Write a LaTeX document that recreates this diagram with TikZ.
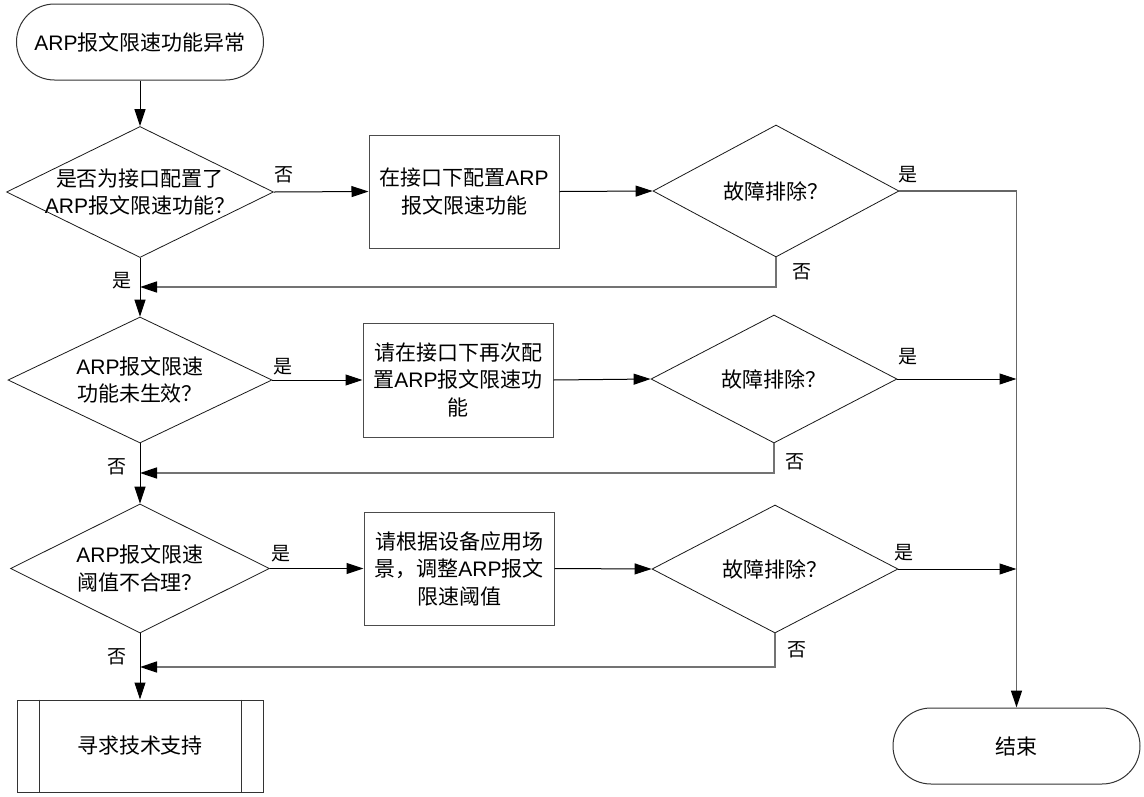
\documentclass[tikz,border=0pt]{standalone}
\usepackage{fontspec}
\setmainfont{Noto Sans CJK SC}
\newfontfamily\latf{Liberation Sans}
\newcommand\ARP{{\latf ARP}}
\usetikzlibrary{shapes.geometric,shapes.misc,arrows.meta}
\begin{document}
\begin{tikzpicture}[x=1pt,y=-1pt,
  font=\fontsize{21}{27.5}\selectfont,
  tip/.style={-{Triangle[length=17pt,width=11pt,color=black]}},
  term/.style={rounded rectangle, draw=black!80, line width=1pt, minimum width=247pt, minimum height=76pt, inner sep=0pt},
  proc/.style={rectangle, draw=black!70, line width=1pt, minimum width=190pt, minimum height=113pt, align=center, inner sep=0pt},
  dec/.style={diamond, draw=black!90, line width=0.8pt, inner sep=0pt},
  flow/.style={draw=black, line width=1pt, tip},
  ret/.style={draw=black!55, line width=1.6pt, tip},
  plain/.style={draw=black!60, line width=1.4pt},
  lab/.style={font=\fontsize{19}{19}\selectfont, inner sep=0pt}]
\useasboundingbox (0,0) rectangle (1144,796);

% nodes
\node[term] (start) at (140,42) {\ARP 报文限速功能异常};
\node[dec, minimum width=267pt, minimum height=131pt,
  label={[align=center]center:是否为接口配置了\\\ARP 报文限速功能？}] (d1) at (140,192) {};
\node[proc] (b1) at (464,191.5) {在接口下配置\ARP\\报文限速功能};
\node[dec, minimum width=246pt, minimum height=132pt,
  label={center:故障排除？}] (f1) at (776,191) {};

\node[dec, minimum width=264pt, minimum height=126pt,
  label={[align=center]center:\ARP 报文限速\\功能未生效？}] (d2) at (140,380) {};
\node[proc, minimum height=114pt] (b2) at (458,380) {请在接口下再次配\\置\ARP 报文限速功\\能};
\node[dec, minimum width=246pt, minimum height=128pt,
  label={center:故障排除？}] (f2) at (774,379) {};

\node[dec, minimum width=259pt, minimum height=129pt,
  label={[align=center]center:\ARP 报文限速\\阈值不合理？}] (d3) at (140,568.5) {};
\node[proc] (b3) at (459,568.5) {请根据设备应用场\\景，调整\ARP 报文\\限速阈值};
\node[dec, minimum width=246pt, minimum height=128pt,
  label={center:故障排除？}] (f3) at (775,569) {};

\node[rectangle, draw=black!80, line width=1pt, minimum width=246pt, minimum height=92pt] (sub) at (140,746) {寻求技术支持};
\draw[black!80, line width=1pt] ([xshift=23pt]sub.north west) -- ([xshift=23pt]sub.south west)
  ([xshift=-22pt]sub.north east) -- ([xshift=-22pt]sub.south east);
\node[term] (end) at (1016.5,746) {结束};

% junction coordinates
\coordinate (j1) at (140,287);
\coordinate (j2) at (140,473);
\coordinate (j3) at (140,667);
\coordinate (r2) at (1016.5,379);
\coordinate (r3) at (1016.5,569);

% main flow
\draw[flow] (start.south) -- (d1.north);
\draw[flow] (d1.south) -- (d2.north);
\draw[flow] (d2.south) -- (d3.north);
\draw[flow] (d3.south) -- (sub.north);

\draw[flow] (d1.east) -- (b1.west);
\draw[flow] (b1.east) -- (f1.west);
\draw[flow] (d2.east) -- (b2.west);
\draw[flow] (b2.east) -- (f2.west);
\draw[flow] (d3.east) -- (b3.west);
\draw[flow] (b3.east) -- (f3.west);

% yes to end
\draw[plain, tip] (f1.east) -| (end.north);
\draw[flow] (f2.east) -- (r2);
\draw[flow] (f3.east) -- (r3);

% returns
\draw[ret] (f1.south) |- (j1);
\draw[ret] (f2.south) |- (j2);
\draw[ret] (f3.south) |- (j3);

% labels
\node[lab] at (284,175) {否};
\node[lab] at (122,281) {是};
\node[lab] at (908,175) {是};
\node[lab] at (802,272) {否};

\node[lab] at (283,367) {是};
\node[lab] at (117,467) {否};
\node[lab] at (908,357) {是};
\node[lab] at (795,462) {否};

\node[lab] at (281,554) {是};
\node[lab] at (117,657) {否};
\node[lab] at (904,553) {是};
\node[lab] at (797,650) {否};
\end{tikzpicture}
\end{document}
